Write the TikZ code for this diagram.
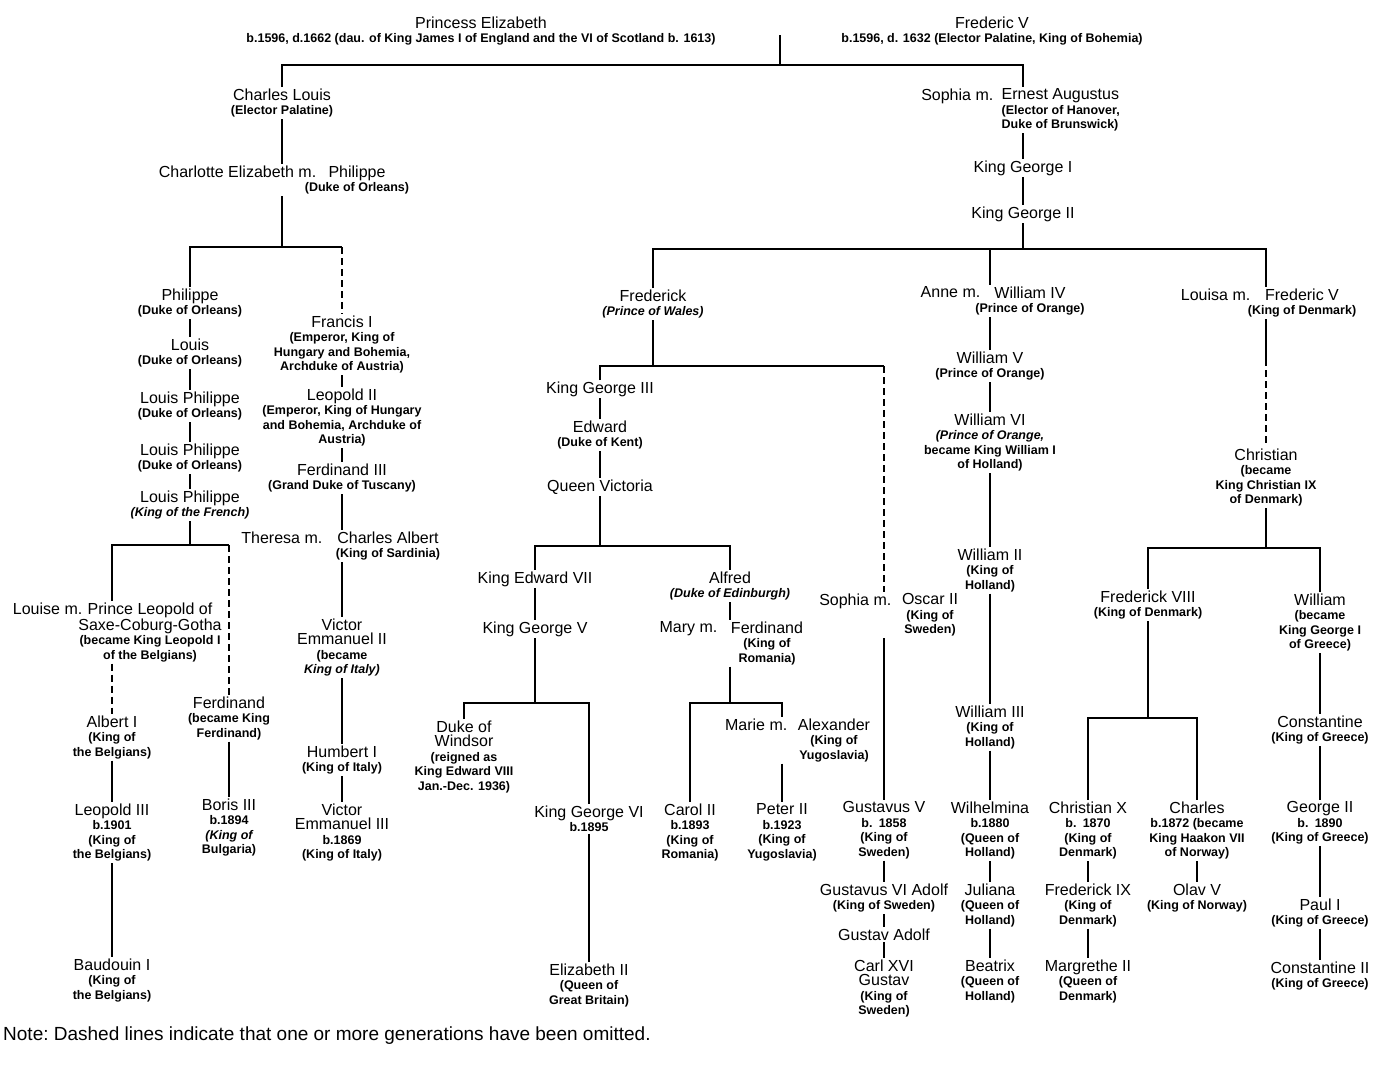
\documentclass[tikz,border=0pt]{standalone}
\usepackage{fontspec}
\setmainfont{Liberation Sans}
\usetikzlibrary{positioning}
\newcommand{\rnk}[1]{{\fontsize{12.5}{14}\selectfont\bfseries #1}}
\newcommand{\rnki}[1]{{\fontsize{12.5}{14}\selectfont\bfseries\itshape #1}}

\begin{document}
\begin{tikzpicture}[x=1pt, y=-1pt,
    pers/.style={anchor=north, align=center, inner sep=1.5pt, font=\fontsize{16}{14.5}\selectfont},
    wife/.style={pers, anchor=north east},
    ln/.style={line width=1.4pt},
    gap/.style={ln, dash pattern=on 7pt off 4pt}
]
\useasboundingbox (0,0) rectangle (1389,1090);

\coordinate (wed) at (780,35);
\coordinate (bar0) at (0,65);
\coordinate (bar1) at (0,247);
\coordinate (bar2) at (0,545);
\coordinate (bar3) at (0,249);
\coordinate (bar4) at (0,366);
\coordinate (bar5) at (0,546);
\coordinate (bar6) at (0,703);
\coordinate (bar7) at (0,703);
\coordinate (bar8) at (0,548);
\coordinate (bar9) at (0,718);

\node[pers] (eliz) at (481,15) {Princess Elizabeth\\\rnk{b.1596, d.1662 (dau. of King James I of England and the VI of Scotland b. 1613)}};
\node[pers] (fredv) at (992,15) {Frederic V\\\rnk{b.1596, d. 1632 (Elector Palatine, King of Bohemia)}};

\node[pers] (charles) at (282,87) {Charles Louis\\\rnk{(Elector Palatine)}};
\node[wife] (charlotte) at (318,164) {Charlotte Elizabeth m.};
\node[pers] (philo) at (357,164) {Philippe\\\rnk{(Duke of Orleans)}};

\node[pers] (phil) at (190,287) {Philippe\\\rnk{(Duke of Orleans)}};
\node[pers] (louis) at (190,337) {Louis\\\rnk{(Duke of Orleans)}};
\node[pers] (lp1) at (190,390) {Louis Philippe\\\rnk{(Duke of Orleans)}};
\node[pers] (lp2) at (190,442) {Louis Philippe\\\rnk{(Duke of Orleans)}};
\node[pers] (lp3) at (190,489) {Louis Philippe\\\rnki{(King of the French)}};
\node[wife] (louise) at (84,601) {Louise m.};
\node[pers] (leo) at (150,601) {Prince Leopold of\\Saxe-Coburg-Gotha\\\rnk{(became King Leopold I}\\\rnk{of the Belgians)}};
\node[pers] (albert) at (112,714) {Albert I\\\rnk{(King of}\\\rnk{the Belgians)}};
\node[pers] (leo3) at (112,802) {Leopold III\\\rnk{b.1901}\\\rnk{(King of}\\\rnk{the Belgians)}};
\node[pers] (baud) at (112,957) {Baudouin I\\\rnk{(King of}\\\rnk{the Belgians)}};
\node[pers] (ferd) at (229,695) {Ferdinand\\\rnk{(became King}\\\rnk{Ferdinand)}};
\node[pers] (boris) at (229,797) {Boris III\\\rnk{b.1894}\\\rnki{(King of}\\\rnk{Bulgaria)}};

\node[pers] (francis) at (342,314) {Francis I\\\rnk{(Emperor, King of}\\\rnk{Hungary and Bohemia,}\\\rnk{Archduke of Austria)}};
\node[pers] (leop2) at (342,387) {Leopold II\\\rnk{(Emperor, King of Hungary}\\\rnk{and Bohemia, Archduke of}\\\rnk{Austria)}};
\node[pers] (ferd3) at (342,462) {Ferdinand III\\\rnk{(Grand Duke of Tuscany)}};
\node[wife] (theresa) at (324,530) {Theresa m.};
\node[pers] (calbert) at (388,530) {Charles Albert\\\rnk{(King of Sardinia)}};
\node[pers] (vem2) at (342,617) {Victor\\Emmanuel II\\\rnk{(became}\\\rnki{King of Italy)}};
\node[pers] (humb) at (342,744) {Humbert I\\\rnk{(King of Italy)}};
\node[pers] (vem3) at (342,802) {Victor\\Emmanuel III\\\rnk{b.1869}\\\rnk{(King of Italy)}};

\node[wife] (sophia) at (995,87) {Sophia m.};
\node[pers, anchor=north west, align=left] (ernest) at (1000,87) {Ernest Augustus\\\rnk{(Elector of Hanover,}\\\rnk{Duke of Brunswick)}};
\node[pers] (kg1) at (1023,159) {King George I};
\node[pers] (kg2) at (1023,205) {King George II};

\node[pers] (frk) at (653,288) {Frederick\\\rnki{(Prince of Wales)}};
\node[pers] (kg3) at (600,380) {King George III};
\node[pers] (edw) at (600,419) {Edward\\\rnk{(Duke of Kent)}};
\node[pers] (vic) at (600,478) {Queen Victoria};
\node[pers] (ke7) at (535,570) {King Edward VII};
\node[pers] (kg5) at (535,620) {King George V};
\node[pers] (dow) at (464,719) {Duke of\\Windsor\\\rnk{(reigned as}\\\rnk{King Edward VIII}\\\rnk{Jan.-Dec. 1936)}};
\node[pers] (kg6) at (589,804) {King George VI\\\rnk{b.1895}};
\node[pers] (eliz2) at (589,962) {Elizabeth II\\\rnk{(Queen of}\\\rnk{Great Britain)}};
\node[pers] (alf) at (730,570) {Alfred\\\rnki{(Duke of Edinburgh)}};
\node[wife] (mary) at (719,620) {Mary m.};
\node[pers] (ferdR) at (767,620) {Ferdinand\\\rnk{(King of}\\\rnk{Romania)}};
\node[pers] (carol) at (690,802) {Carol II\\\rnk{b.1893}\\\rnk{(King of}\\\rnk{Romania)}};
\node[wife] (marie) at (789,717) {Marie m.};
\node[pers] (alex) at (834,717) {Alexander\\\rnk{(King of}\\\rnk{Yugoslavia)}};
\node[pers] (peter) at (782,802) {Peter II\\\rnk{b.1923}\\\rnk{(King of}\\\rnk{Yugoslavia)}};

\node[wife] (sophia2) at (893,592) {Sophia m.};
\node[pers] (oscar) at (930,592) {Oscar II\\\rnk{(King of}\\\rnk{Sweden)}};
\node[pers] (gus5) at (884,800) {Gustavus V\\\rnk{b.\enspace 1858}\\\rnk{(King of}\\\rnk{Sweden)}};
\node[pers] (gus6) at (884,882) {Gustavus VI Adolf\\\rnk{(King of Sweden)}};
\node[pers] (gusA) at (884,927) {Gustav Adolf};
\node[pers] (carl) at (884,958) {Carl XVI\\Gustav\\\rnk{(King of}\\\rnk{Sweden)}};

\node[wife] (anne) at (982,285) {Anne m.};
\node[pers] (w4) at (1030,285) {William IV\\\rnk{(Prince of Orange)}};
\node[pers] (w5) at (990,350) {William V\\\rnk{(Prince of Orange)}};
\node[pers] (w6) at (990,412) {William VI\\\rnki{(Prince of Orange,}\\\rnk{became King William I}\\\rnk{of Holland)}};
\node[pers] (w2) at (990,547) {William II\\\rnk{(King of}\\\rnk{Holland)}};
\node[pers] (w3) at (990,704) {William III\\\rnk{(King of}\\\rnk{Holland)}};
\node[pers] (wilh) at (990,800) {Wilhelmina\\\rnk{b.1880}\\\rnk{(Queen of}\\\rnk{Holland)}};
\node[pers] (jul) at (990,882) {Juliana\\\rnk{(Queen of}\\\rnk{Holland)}};
\node[pers] (bea) at (990,958) {Beatrix\\\rnk{(Queen of}\\\rnk{Holland)}};

\node[wife] (louisa) at (1252,287) {Louisa m.};
\node[pers] (fr5) at (1302,287) {Frederic V\\\rnk{(King of Denmark)}};
\node[pers] (chr) at (1266,447) {Christian\\\rnk{(became}\\\rnk{King Christian IX}\\\rnk{of Denmark)}};
\node[pers] (fr8) at (1148,589) {Frederick VIII\\\rnk{(King of Denmark)}};
\node[pers] (wil) at (1320,592) {William\\\rnk{(became}\\\rnk{King George I}\\\rnk{of Greece)}};
\node[pers] (chrX) at (1088,800) {Christian X\\\rnk{b.\enspace 1870}\\\rnk{(King of}\\\rnk{Denmark)}};
\node[pers] (fr9) at (1088,882) {Frederick IX\\\rnk{(King of}\\\rnk{Denmark)}};
\node[pers] (marg) at (1088,958) {Margrethe II\\\rnk{(Queen of}\\\rnk{Denmark)}};
\node[pers] (charl) at (1197,800) {Charles\\\rnk{b.1872 (became}\\\rnk{King Haakon VII}\\\rnk{of Norway)}};
\node[pers] (olav) at (1197,882) {Olav V\\\rnk{(King of Norway)}};
\node[pers] (const) at (1320,714) {Constantine\\\rnk{(King of Greece)}};
\node[pers] (geo2) at (1320,800) {George II\\\rnk{b.\enspace 1890}\\\rnk{(King of Greece)}};
\node[pers] (paul) at (1320,897) {Paul I\\\rnk{(King of Greece)}};
\node[pers] (const2) at (1320,960) {Constantine II\\\rnk{(King of Greece)}};

\node[anchor=west, inner sep=0pt, font=\fontsize{19}{21}\selectfont\frenchspacing] (note) at (3,1036) {Note: Dashed lines indicate that one or more generations have been omitted.};

\draw[ln] (wed) -- (wed |- bar0);
\draw[ln] (charles.north) |- (kg1 |- bar0) -- (kg1 |- ernest.north);
\draw[ln] (kg1 |- ernest.south) -- (kg1);
\draw[ln] (kg1) -- (kg2);
\draw[ln] (kg2) -- (kg2 |- bar3);

\draw[ln] (charles) -- (charles |- charlotte.north);
\draw[ln] (charles |- philo.south) -- (charles |- bar1);
\draw[ln] (phil.north) |- (francis |- bar1);
\draw[gap] (francis |- bar1) -- (francis.north);
\draw[ln] (phil) -- (louis);
\draw[ln] (louis) -- (lp1);
\draw[ln] (lp1) -- (lp2);
\draw[ln] (lp2) -- (lp3);
\draw[ln] (lp3) -- (lp3 |- bar2);
\draw[ln] (albert |- leo.north) |- (ferd |- bar2);
\draw[gap] (ferd |- bar2) -- (ferd.north);
\draw[gap] (albert |- leo.south) -- (albert.north);
\draw[ln] (albert) -- (leo3);
\draw[ln] (leo3) -- (baud);
\draw[ln] (ferd) -- (boris);

\draw[ln] (francis) -- (leop2);
\draw[ln] (leop2) -- (ferd3);
\draw[ln] (ferd3) -- (ferd3 |- calbert.north);
\draw[ln] (ferd3 |- calbert.south) -- (vem2);
\draw[ln] (vem2) -- (humb);
\draw[ln] (humb) -- (vem3);

\draw[ln] (frk.north) |- (chr |- bar3) -- (chr |- fr5.north);
\draw[ln] (w5 |- bar3) -- (w5 |- w4.north);
\draw[ln] (frk) -- (frk |- bar4);
\draw[ln] (kg3.north) |- (gus5 |- bar4);
\draw[gap] (gus5 |- bar4) -- (gus5 |- oscar.north);
\draw[ln] (gus5 |- oscar.south) -- (gus5);
\draw[ln] (kg3) -- (edw);
\draw[ln] (edw) -- (vic);
\draw[ln] (vic) -- (vic |- bar5);
\draw[ln] (ke7.north) |- (alf |- bar5) -- (alf.north);
\draw[ln] (ke7) -- (kg5);
\draw[ln] (kg5) -- (kg5 |- bar6);
\draw[ln] (dow.north) |- (kg6 |- bar6) -- (kg6.north);
\draw[ln] (kg6) -- (eliz2);
\draw[ln] (alf) -- (alf |- ferdR.north);
\draw[ln] (alf |- ferdR.south) -- (alf |- bar7);
\draw[ln] (carol.north) |- (peter |- bar7) -- (peter |- alex.north);
\draw[ln] (peter |- alex.south) -- (peter);
\draw[ln] (gus5) -- (gus6);
\draw[ln] (gus6) -- (gusA);
\draw[ln] (gusA) -- (carl);

\draw[ln] (w5 |- w4.south) -- (w5);
\draw[ln] (w5) -- (w6);
\draw[ln] (w6) -- (w2);
\draw[ln] (w2) -- (w3);
\draw[ln] (w3) -- (wilh);
\draw[ln] (wilh) -- (jul);
\draw[ln] (jul) -- (bea);

\draw[ln] (chr |- fr5.south) -- ++(0,40) coordinate (dj);
\draw[gap] (dj) -- (chr);
\draw[ln] (chr) -- (chr |- bar8);
\draw[ln] (fr8.north) |- (wil |- bar8) -- (wil.north);
\draw[ln] (fr8) -- (fr8 |- bar9);
\draw[ln] (chrX.north) |- (charl |- bar9) -- (charl.north);
\draw[ln] (chrX) -- (fr9);
\draw[ln] (fr9) -- (marg);
\draw[ln] (charl) -- (olav);
\draw[ln] (wil) -- (const);
\draw[ln] (const) -- (geo2);
\draw[ln] (geo2) -- (paul);
\draw[ln] (paul) -- (const2);
\end{tikzpicture}
\end{document}
